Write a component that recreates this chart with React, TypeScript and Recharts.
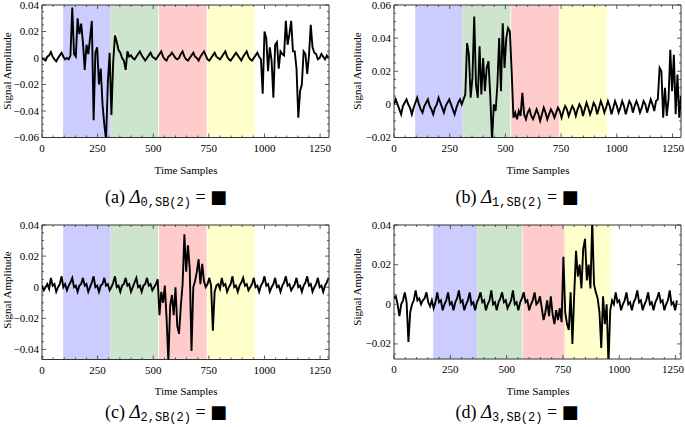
import { LineChart, Line, XAxis, YAxis, ReferenceArea } from 'recharts';

// sample spacing of the stored signals (every 8th time sample), values in units of 1e-3
const STEP = 8;

const SIGNAL_A = [
    0, -1, -2, 1, 2, 4.5, 1, -1, -2.5, 0,
    2, 4, 1, -1, 0, -1, 2, 38, 3, 1,
    30, 18, 26, 12, -9, 10, 3, 15, 28, -47,
    4, 8, -20, -8, -35, -50, -62, -18, 4, -43,
    -3, 17, 12, 6, 4, 0, -2, -9, 5, 1,
    2, 0, -1, 1, 3, 5,
    2, 0, -2, 0, 2, 4,
    1, 0, -1, 1, 3, 5,
    1, -1, -2, 1, 2, 4,
    2, 0, -1, 0, 3, 5,
    1, -1, -2, 0, 2, 4,
    1, 0, -2, 1, 3, 5,
    2, -1, -2, 0, 2, 4,
    1, 0, -1, 1, 3, 5,
    1, -1, -2, 0, 2, 4,
    2, 0, -2, 1, 3, 5,
    1, -1, -2, 0, 2, 4,
    1, -1, -27, 20, 15, -10, 8, -2, -30, 10,
    12, -8, 5, 3, 2, 28, 10, 18, 28, 5,
    5, -8, -45, -25, -20, 5, 3, -12, 2, 25,
    8, 4, 3, -1, 0, 3, 1, -1, 2, 0,
];

const SIGNAL_B = [
    0, 3, 0, -3, -6, -1, 1, 3, 0, -2,
    -6, -2, 1, 4, 0, -3, -5, -1, 1, 3,
    -1, -3, -6, -2, 0, 4, 1, -2, -5, -1,
    1, 3, 0, -3, -6, -2, 1, 3, 0,
    3, 6, 37, 30, 4, 16, 53, 12, 4, 35,
    6, 28, 8, 22, 26, 5, -22, 0, -4, 12,
    40, 8, 49, 22, 40, 46, 44, 20, -8,
    -5, -9, -4, -7, 7, -6, -9, -5, -3, -7,
    -9, -6, -3, -6, -10, -6, -2, -5, -9, -6,
    -3, -5, -8, -5, -2, -4, -8, -4, -1, -3,
    -7, -4, -1, -3, -7, -3, 0, -2, -7, -3,
    1, -2, -6, -3, 1, -1, -6, -2, 2, -1,
    -5, -2, 2, -1, -6, -2, 2, -1, -5, -2,
    2, -1, -6, -2, 2, 0, -5, -1, 2, -1,
    -5, -2, 2, 0, -5, -1, 3, 0, -4,
    2, 3, 22, 20, -8, 10, -7, 3, 33, 8, 30, -6, 18, -8, 5,
];

const SIGNAL_C = [
    1, -2, 0, 2, -1, 6, 1, 2, -3, 0,
    2, 7, 0, 2, -2, 1, 3, 6, 0, 1,
    -3, 1, 2, 6, 1, 2, -3, 0, 3, 7,
    0, 1, -3, 1, 2, 6, 1, 2, -2, 0,
    3, 7, 0, 1, -3, 1, 2, 6, 1, 2,
    -3, 0, 3, 6, 0, 1, -3, 1, 2, 6,
    1, 2, -2, 0, 2, 5,
    -18, -3, -10, 1, -20, -48, -12, -5, -18, 0,
    -25, -30, -12, 2, 34, 10, 27, 12, -41, 0,
    4, 10, 18, 2, 15, 4, 0, 2, 6, 1,
    -28,
    -3, 1, 2, -1, 6, 1, 2, -3, 0, 2,
    7, 0, 1, -3, 1, 3, 6, 1, 2, -2,
    0, 2, 6, 0, 1, -3, 1, 3, 7, 1,
    2, -3, 0, 2, 6, 0, 1, -3, 1, 3,
    7, 1, 2, -2, 0, 2, 6, 0, 1, -3,
    1, 3, 7, 1, 2, -3, 0, 2, 6, 0,
    1, -3, 1, 3, 6,
];

const SIGNAL_D = [
    3, 4, 0, -6, 0, 2, 6, 1, -19, -4, 0, 2, 7, 2, 3, 0, 2, 3, 6,
    1, -1, 2, -2, 1, 6, 1, 2, -3, 0,
    2, 6, 0, 1, -3, 1, 3, 7, 1, 2,
    -3, 0, 2, 6, 0, 1, -3, 1, 3, 6,
    1, 2, -3, 0, 2, 7, 0, 1, -3, 1,
    3, 6, 1, 2, -2, 0, 2, 7, 0, 1,
    -3, 1, 3, 6, 1, 2, -3, 0, 2, 6,
    0,
    1, 4, -2, -8, -4, 2, -6, 4, -5, -10,
    -3, -8, -2, -9, 24, -4, -10, -13, 6, -20,
    5, 27, 14, 20, 8, 28, 33, 12, 20, 8,
    42, 10, 6, 3, -4, -22, 4, -10, 0, -30,
    -3,
    2, 0, 6, 1, 2, -3, 0, 2, 6, 0,
    1, -3, 1, 3, 7, 1, 2, -3, 0, 2,
    6, 0, 1, -3, 1, 3, 6, 1, 2, -3,
    0, 2, 7, 0, 1, -3, 2,
];

// shaded sample windows (blue, green, red, yellow)
const BANDS_ABC = [[95, 308], [308, 522], [526, 740], [742, 956]];
const BANDS_D = [[174, 369], [369, 568], [571, 757], [759, 963]];
const BAND_COLORS = ['#ccccff', '#cce5cc', '#ffcccc', '#ffffcc'];

const X_TICKS = [
    0, 50, 100, 150, 200, 250, 300, 350, 400, 450, 500, 550, 600,
    650, 700, 750, 800, 850, 900, 950, 1000, 1050, 1100, 1150, 1200, 1250,
];
const Y_TICKS_A = [
    -0.06, -0.055, -0.05, -0.045, -0.04, -0.035, -0.03, -0.025, -0.02, -0.015, -0.01,
    -0.005, 0, 0.005, 0.01, 0.015, 0.02, 0.025, 0.03, 0.035, 0.04,
];
const Y_TICKS_B = [
    -0.02, -0.015, -0.01, -0.005, 0, 0.005, 0.01, 0.015, 0.02, 0.025, 0.03, 0.035,
    0.04, 0.045, 0.05, 0.055, 0.06,
];
const Y_TICKS_C = [
    -0.045, -0.04, -0.035, -0.03, -0.025, -0.02, -0.015, -0.01, -0.005, 0, 0.005,
    0.01, 0.015, 0.02, 0.025, 0.03, 0.035, 0.04,
];
const Y_TICKS_D = [
    -0.025, -0.02, -0.015, -0.01, -0.005, 0, 0.005, 0.01, 0.015, 0.02, 0.025, 0.03,
    0.035, 0.04,
];

const SERIF = '"Liberation Serif", Tinos, "Times New Roman", "DejaVu Serif", serif';
const MONO = '"Liberation Mono", "DejaVu Sans Mono", monospace';
const FRAME = '#333';
const PAGE_W = 685;

const toRows = (vals: number[]) => vals.map((v, i) => ({ t: i * STEP, v: v / 1000 }));

const panels = [
    { id: 'a', sub: '0', data: SIGNAL_A, left: 42, top: 5, w: 287, h: 132.5, xMax: 1290, yDomain: [-0.06, 0.04], yTicks: Y_TICKS_A, bands: BANDS_ABC },
    { id: 'b', sub: '1', data: SIGNAL_B, left: 394, top: 5, w: 287, h: 132.5, xMax: 1288, yDomain: [-0.02, 0.06], yTicks: Y_TICKS_B, bands: BANDS_ABC },
    { id: 'c', sub: '2', data: SIGNAL_C, left: 42, top: 224.5, w: 287, h: 134.5, xMax: 1290, yDomain: [-0.0465, 0.04], yTicks: Y_TICKS_C, bands: BANDS_ABC },
    { id: 'd', sub: '3', data: SIGNAL_D, left: 394, top: 225, w: 287, h: 134, xMax: 1274, yDomain: [-0.0276, 0.04], yTicks: Y_TICKS_D, bands: BANDS_D },
];

const fmtY = (v: number) => {
    if (Math.abs(v) < 1e-9) return '0';
    return (v < 0 ? '\u2212' : '') + Math.abs(v).toFixed(2);
};

const serifStyle = { fontFamily: SERIF };

function XTick(props: any) {
    const { x, y, payload, plotH, maxRight } = props;
    const v = payload.value;
    const major = v % 250 === 0;
    const len = major ? 4 : 2;
    // keep the last label inside the page
    const half = String(v).length * 2.9;
    const clamp = x + half > maxRight;
    return (
        <g>
            <line x1={x} y1={y} x2={x} y2={y - len} stroke={FRAME} strokeWidth={0.8} />
            <line x1={x} y1={y - plotH} x2={x} y2={y - plotH + len} stroke={FRAME} strokeWidth={0.8} />
            {major && (
                <text
                    x={clamp ? maxRight : x}
                    y={y + 14}
                    textAnchor={clamp ? 'end' : 'middle'}
                    fontSize={11}
                    style={serifStyle}
                    fill="#000"
                >
                    {v}
                </text>
            )}
        </g>
    );
}

function YTick(props: any) {
    const { x, y, payload, plotW } = props;
    const v = payload.value;
    const major = Math.abs(v * 50 - Math.round(v * 50)) < 1e-6;
    const len = major ? 4 : 2;
    return (
        <g>
            <line x1={x} y1={y} x2={x + len} y2={y} stroke={FRAME} strokeWidth={0.8} />
            <line x1={x + plotW} y1={y} x2={x + plotW - len} y2={y} stroke={FRAME} strokeWidth={0.8} />
            {major && (
                <text x={x - 3} y={y + 3.5} textAnchor="end" fontSize={11} style={serifStyle} fill="#000">
                    {fmtY(v)}
                </text>
            )}
        </g>
    );
}

function Panel({ p }: { p: any }) {
    const rows = toRows(p.data);
    const width = 40 + p.w + 12;
    const height = 6 + p.h + 20;
    const maxRight = PAGE_W - (p.left - 40) - 1;
    return (
        <div style={{ position: 'absolute', left: p.left - 40, top: p.top - 6 }}>
            <LineChart width={width} height={height} data={rows} margin={{ top: 6, right: 12, bottom: 0, left: 0 }}>
                <XAxis
                    dataKey="t"
                    type="number"
                    domain={[0, p.xMax]}
                    ticks={X_TICKS}
                    interval={0}
                    height={20}
                    tickSize={0}
                    tickMargin={0}
                    axisLine={false}
                    tickLine={false}
                    allowDataOverflow
                    tick={(tp: any) => <XTick {...tp} plotH={p.h} maxRight={maxRight} />}
                />
                <YAxis
                    type="number"
                    domain={p.yDomain}
                    ticks={p.yTicks}
                    interval={0}
                    width={40}
                    tickSize={0}
                    tickMargin={0}
                    axisLine={false}
                    tickLine={false}
                    allowDataOverflow
                    tick={(tp: any) => <YTick {...tp} plotW={p.w} />}
                />
                {p.bands.map((b: number[], i: number) => (
                    <ReferenceArea
                        key={`band-${i}`}
                        x1={b[0]}
                        x2={b[1]}
                        y1={p.yDomain[0]}
                        y2={p.yDomain[1]}
                        fill={BAND_COLORS[i]}
                        fillOpacity={1}
                        stroke="none"
                    />
                ))}
                <ReferenceArea
                    x1={0}
                    x2={p.xMax}
                    y1={p.yDomain[0]}
                    y2={p.yDomain[1]}
                    fill="none"
                    stroke={FRAME}
                    strokeWidth={1}
                />
                <Line
                    type="linear"
                    dataKey="v"
                    stroke="#000"
                    strokeWidth={1.9}
                    dot={false}
                    isAnimationActive={false}
                />
            </LineChart>
        </div>
    );
}

export default function App() {
    const labelPos = [
        { cx: 166, capY: 203, tx: 186, ty: 174, ax: 7, ay: 71 },
        { cx: 517, capY: 203, tx: 538, ty: 174, ax: 357, ay: 71 },
        { cx: 166, capY: 418, tx: 186, ty: 395, ax: 7, ay: 290 },
        { cx: 517, capY: 418, tx: 538, ty: 395, ax: 357, ay: 287 },
    ];
    return (
        <div style={{ position: 'absolute', left: 0, top: 0, width: PAGE_W, height: 427, background: '#fff', overflow: 'hidden', fontFamily: SERIF }}>
            {panels.map(p => (
                <Panel key={p.id} p={p} />
            ))}
            <svg width={PAGE_W} height={427} style={{ position: 'absolute', left: 0, top: 0, pointerEvents: 'none' }}>
                {panels.map((p, i) => {
                    const l = labelPos[i];
                    return (
                        <g key={`lbl-${p.id}`}>
                            <text x={l.tx} y={l.ty} textAnchor="middle" fontSize={11} style={serifStyle}>
                                Time Samples
                            </text>
                            <text
                                transform={`translate(${l.ax},${l.ay}) rotate(-90)`}
                                textAnchor="middle"
                                dominantBaseline="central"
                                fontSize={11}
                                style={serifStyle}
                            >
                                Signal Amplitude
                            </text>
                            <text x={l.cx} y={l.capY} textAnchor="middle" fontSize={18} style={serifStyle}>
                                ({p.id}){'  '}
                                <tspan fontStyle="italic" fontSize={19}>Δ</tspan>
                                <tspan style={{ fontFamily: MONO }} fontSize={12} dy={3}>{p.sub},SB(2)</tspan>
                                <tspan dy={-3}>{' = '}</tspan>
                                <tspan style={{ fontFamily: '"DejaVu Sans", sans-serif' }}>■</tspan>
                            </text>
                        </g>
                    );
                })}
            </svg>
        </div>
    );
}
